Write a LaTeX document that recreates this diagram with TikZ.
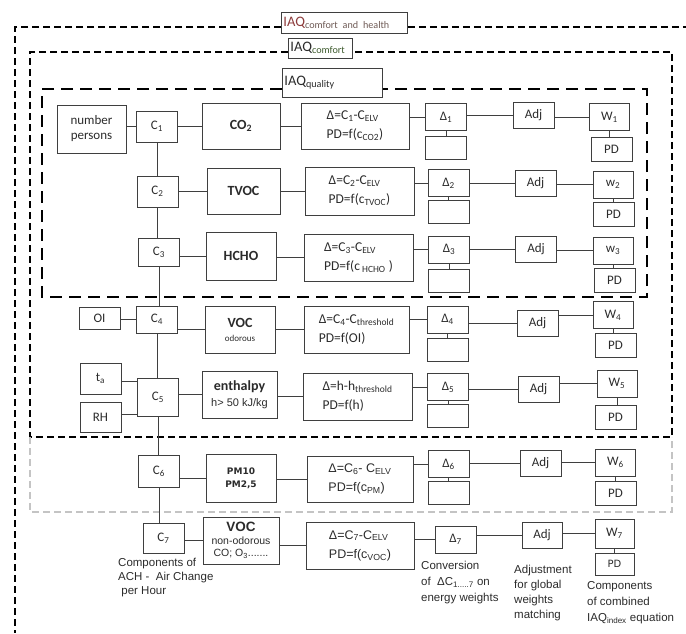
\documentclass[tikz,border=0pt]{standalone}
\usepackage{fontspec}
\setmainfont{Carlito}
\newfontfamily\arialfont{Liberation Sans}
\newfontfamily\verdfont{DejaVu Sans}
\usetikzlibrary{positioning}
\definecolor{Ink}{HTML}{2B2B2B}
\definecolor{Frame}{HTML}{3F3F3F}
\definecolor{HealthRed}{HTML}{8C3B3B}
\definecolor{HealthSub}{HTML}{6E5A55}
\definecolor{ComfortGreen}{HTML}{3E5B2E}
\definecolor{PMGray}{HTML}{C4C4C4}

\begin{document}
\begin{tikzpicture}[x=1pt,y=-1pt,
  gbox/.style={draw=Frame, line width=0.8pt, inner sep=1pt, text=Ink, align=center,
    font=\fontsize{13}{15}\selectfont},
  cbox/.style={gbox, minimum width=41, minimum height=30},
  sbox/.style={gbox, minimum width=72, minimum height=47, font=\fontsize{14}{16}\selectfont\bfseries},
  fbox/.style={gbox, minimum width=108, minimum height=47, align=left, font=\fontsize{13.5}{19}\selectfont},
  abox/.style={fbox, font=\arialfont\fontsize{12.5}{19}\selectfont},
  dbox/.style={gbox, minimum width=41, minimum height=27},
  ebox/.style={gbox, minimum width=41, minimum height=23},
  pdbox/.style={gbox, minimum width=41, minimum height=24},
  annot/.style={anchor=north west, inner sep=0pt, align=left, text=Ink,
    font=\arialfont\fontsize{11.5}{15}\selectfont},
  iaqtag/.style={draw=Frame, line width=0.8pt, anchor=west, inner sep=2pt, align=left, text=Ink,
    font=\fontsize{14.5}{15}\selectfont},
  zoneline/.style={line width=2.6pt, dash pattern=on 7pt off 4pt},
  qualline/.style={line width=2.8pt, dash pattern=on 12pt off 7pt}
]
  \useasboundingbox (0,0) rectangle (686,633);

  % zone labels
  \node[iaqtag, text width=122, minimum height=21] (lblhealth) at (281,22.5)
    {\textcolor{HealthRed}{IAQ}\textsubscript{\textcolor{HealthSub}{comfort and health}}};
  \node[iaqtag, text width=60, minimum height=20] (lblcomfort) at (288,48)
    {IAQ\textsubscript{\textcolor{ComfortGreen}{comfort}}};
  \node[iaqtag, text width=96, minimum height=29] (lblquality) at (282,82.5)
    {IAQ\textsubscript{quality}};

  % dashed zones
  \draw[zoneline] (lblhealth.west |- 0,27) -- (15,27) -- (15,633);
  \draw[zoneline] (lblhealth.east |- 0,27) -- (686,27);
  \draw[zoneline] (lblcomfort.west |- 0,52) -- (30,52) -- (30,437) -- (672,437)
    -- (672,52) -- (lblcomfort.east |- 0,52);
  \draw[zoneline, PMGray, line width=2pt] (30,437) -- (30,512) -- (672,512) -- (672,437);
  \draw[qualline] (lblquality.west |- 0,89) -- (42,89) -- (42,297) -- (647,297)
    -- (647,89) -- (lblquality.east |- 0,89);

  % inputs
  \node[gbox, minimum width=69, minimum height=48] (np) at (91.5,129) {number\\persons};
  \node[gbox, minimum width=41, minimum height=22] (oi) at (99.5,318) {OI};
  \node[gbox, minimum width=41, minimum height=31] (ta) at (100.5,378.5) {t\textsubscript{a}};
  \node[gbox, minimum width=41, minimum height=30] (rh) at (100.5,417) {RH};

  % concentrations
  \node[cbox, minimum height=31] (c1) at (157,126.5) {C\textsubscript{1}};
  \node[cbox, minimum height=31] (c2) at (157.5,191.5) {C\textsubscript{2}};
  \node[cbox, minimum height=28] (c3) at (159,252) {C\textsubscript{3}};
  \node[cbox, minimum height=27] (c4) at (157,319.5) {C\textsubscript{4}};
  \node[cbox, minimum height=38] (c5) at (158,397) {C\textsubscript{5}};
  \node[cbox, minimum height=32] (c6) at (159,471) {C\textsubscript{6}};
  \node[cbox] (c7) at (163.5,538) {C\textsubscript{7}};

  % substances
  \node[sbox, minimum width=78, minimum height=46] (s1) at (241,126) {CO\textsubscript{2}};
  \node[sbox, minimum width=73, minimum height=46] (s2) at (243.5,191) {TVOC};
  \node[sbox, minimum width=70, minimum height=48] (s3) at (241,256) {HCHO};
  \node[sbox, minimum width=70] (s4) at (240,329.5)
    {VOC\\[-2pt]{\mdseries\fontsize{9}{11}\selectfont odorous}};
  \node[sbox, minimum width=75] (s5) at (239.5,394.5)
    {enthalpy\\{\mdseries\arialfont\fontsize{11}{14}\selectfont h> 50 kJ/kg}};
  \node[sbox, minimum width=70, minimum height=48, font=\verdfont\fontsize{9}{13}\selectfont\bfseries]
    (s6) at (241,478) {PM10\\PM2,5};
  \node[sbox, minimum width=76, font=\arialfont\fontsize{10.5}{12.5}\selectfont] (s7) at (241,540.5)
    {{\fontsize{13.5}{13}\selectfont\bfseries VOC}\\non-odorous\\CO; O\textsubscript{3}.......};

  % formulas
  \node[fbox, minimum height=46] (f1) at (355,126)
    {Δ=C\textsubscript{1}-C\textsubscript{ELV}\\PD=f(c\textsubscript{CO2})};
  \node[fbox, minimum width=109, minimum height=48] (f2) at (359.5,191)
    {Δ=C\textsubscript{2}-C\textsubscript{ELV}\\PD=f(c\textsubscript{TVOC})};
  \node[fbox, minimum width=109] (f3) at (358.5,257.5)
    {Δ=C\textsubscript{3}-C\textsubscript{ELV}\\PD=f(c\textsubscript{ HCHO} )};
  \node[fbox, minimum width=105] (f4) at (356.5,329.5)
    {Δ=C\textsubscript{4}-C\textsubscript{threshold}\\PD=f(OI)};
  \node[fbox, minimum width=109] (f5) at (357.5,396.5)
    {Δ=h-h\textsubscript{threshold}\\PD=f(h)};
  \node[abox, minimum width=106, minimum height=46] (f6) at (360,479)
    {Δ=C\textsubscript{6}- C\textsubscript{ELV}\\PD=f(c\textsubscript{PM})};
  \node[abox] (f7) at (360,545.5)
    {Δ=C\textsubscript{7}-C\textsubscript{ELV}\\PD=f(c\textsubscript{VOC})};

  % weighting chain, rows 1-6
  \foreach \i/\dx/\dy/\ey/\ax/\ay/\wl/\wx/\wy/\px/\py in {
    1/446/117/147.5/533.5/115.5/W/609.5/117/611.5/149,
    2/448.5/183/212/535.5/183/w/613/184.5/613.5/214,
    3/449/249.5/280.5/536/249/w/613/250.5/614.5/280,
    4/447.5/319.5/349.5/537.5/323.5/W/613/315/615.5/345.5,
    5/448/387/416/538.5/389/W/617/383.5/615.5/417,
    6/448.5/464/492.5/540.5/463/W/615.5/462.5/615.5/493.5} {
    \node[dbox] (d\i) at (\dx,\dy) {Δ\textsubscript{\i}};
    \node[ebox] (e\i) at (\dx,\ey) {};
    \node[dbox, minimum height=26] (adj\i) at (\ax,\ay) {Adj};
    \node[dbox, minimum width=40] (w\i) at (\wx,\wy) {\wl\textsubscript{\i}};
    \node[pdbox] (pd\i) at (\px,\py) {PD};
    \draw[Frame] (d\i.west -| f\i.east) -- (d\i.west);
    \draw[Frame] (d\i.south) -- (e\i.north);
    \draw[Frame] (adj\i.west -| d\i.east) -- (adj\i.west);
    \draw[Frame] (w\i.west -| adj\i.east) -- (w\i.west);
    \draw[Frame] (w\i.south) -- (w\i.south |- pd\i.north);
  }

  % row 7
  \node[dbox] (d7) at (455.5,539.5) {Δ\textsubscript{7}};
  \node[dbox, minimum width=40, minimum height=26] (adj7) at (542,535) {Adj};
  \node[dbox, minimum width=39, minimum height=29] (w7) at (614.5,533.5) {W\textsubscript{7}};
  \node[pdbox, minimum width=39, minimum height=22, font=\verdfont\fontsize{10}{12}\selectfont] (pd7) at (614.5,564) {PD};
  \draw[Frame] (d7.west -| f7.east) -- (d7.west);
  \draw[Frame] (adj7.west -| d7.east) -- (adj7.west);
  \draw[Frame] (w7.west -| adj7.east) -- (w7.west);
  \draw[Frame] (w7.south) -- (pd7.north);

  % left links
  \draw[Frame] (c1.west -| np.east) -- (c1.west);
  \draw[Frame] (c4.west -| oi.east) -- (c4.west);
  \draw[Frame] (c5.143) -- (c5.143 -| ta.east);
  \draw[Frame] (c5.219) -- (c5.219 -| rh.east);
  \foreach \i in {1,...,7} {
    \draw[Frame] (s\i.west -| c\i.east) -- (s\i.west);
    \draw[Frame] (f\i.west -| s\i.east) -- (f\i.west);
  }
  \foreach \a/\b in {1/2,2/3,3/4,4/5,5/6,6/7}
    \draw[Frame] (c\a.south) -- (c\a.south |- c\b.north);

  % notes
  \node[annot, font=\arialfont\fontsize{11.5}{14}\selectfont] (noteach) at (118,558)
    {Components of\\ACH -\ \ Air Change\\\ per Hour};
  \node[annot, font=\arialfont\fontsize{11.5}{16}\selectfont] (noteconv) at (421,561)
    {Conversion\\of\ \ ΔC\textsubscript{1.....7} on\\energy weights};
  \node[annot] (noteadj) at (514,565) {Adjustment\\for global\\weights\\matching};
  \node[annot, font=\arialfont\fontsize{11.5}{16}\selectfont] (notecomp) at (587,581)
    {Components\\of combined\\IAQ\textsubscript{index} equation};
\end{tikzpicture}
\end{document}
